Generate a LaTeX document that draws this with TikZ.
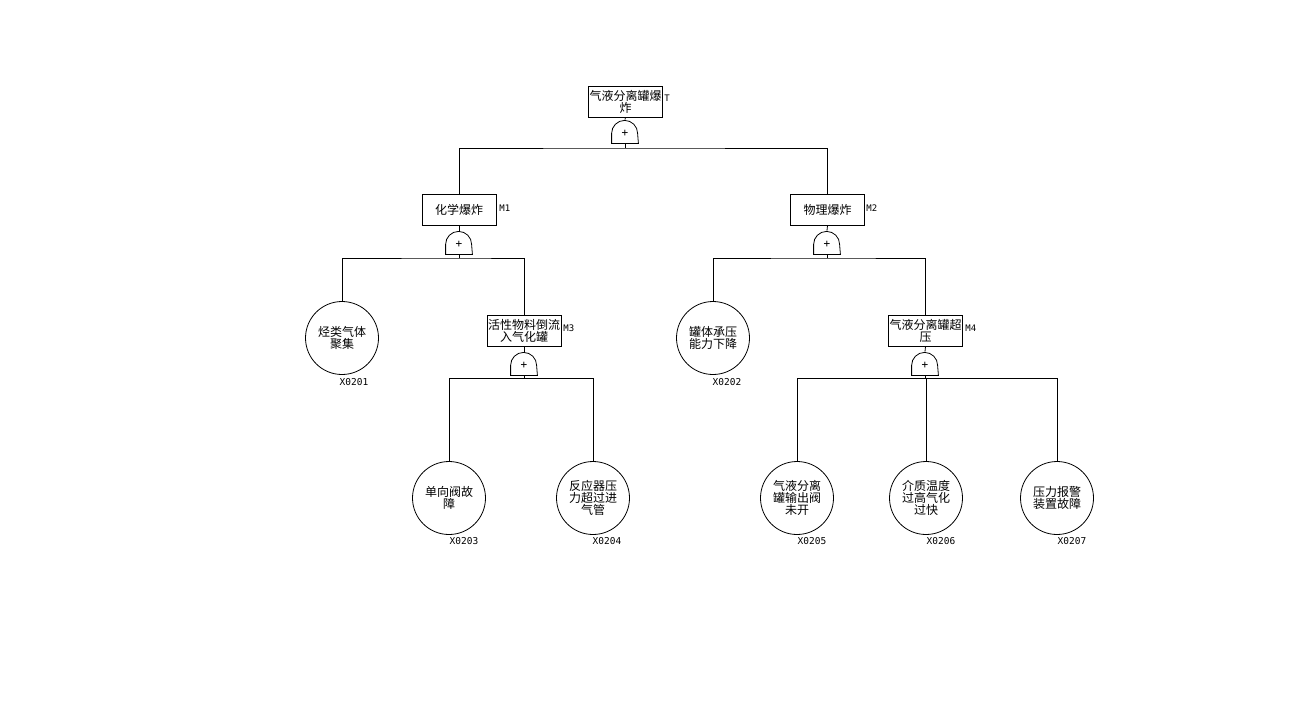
\documentclass[tikz,border=0pt]{standalone}
\usepackage{fontspec}
\newfontfamily\cjk{Noto Sans CJK SC}
\newfontfamily\lbl{DejaVu Sans Mono}
\begin{document}
\begin{tikzpicture}[x=1pt,y=1pt,
  line width=0.8pt,
  evt/.style={draw, rectangle, minimum width=74, minimum height=31, inner sep=0pt, align=center, font=\cjk\fontsize{12}{12}\selectfont},
  basic/.style={draw, circle, minimum size=73, inner sep=0pt, align=center, font=\cjk\fontsize{12}{12}\selectfont},
  gate/.style={minimum width=26, minimum height=23, inner sep=0pt},
  tag/.style={font=\lbl\fontsize{9}{9}\selectfont, inner sep=0pt, anchor=west},
  ctag/.style={font=\lbl\fontsize{9.5}{9.5}\selectfont, inner sep=0pt}
]
\useasboundingbox (0,0) rectangle (1298,-716);
\newcommand{\orgate}[1]{%
  \draw (#1.south west) -- ++(0,10) arc[start angle=180,end angle=0,radius=13] -- (#1.south east) -- cycle;
  \node[font=\lbl\fontsize{11}{11}\selectfont, inner sep=0pt] at ([yshift=-2]#1.center) {+};}

% top
\node[evt] (T) at (625.5,-101.5) {气液分离罐爆\\炸};
\node[tag] (tT) at (664,-98) {T};
\node[gate] (gT) at (625,-131.5) {};
\orgate{gT}
\coordinate (bT) at (625,-148);

% M1, M2
\node[evt] (M1) at (459,-209.5) {化学爆炸};
\node[tag] (tM1) at (499,-208) {M1};
\node[gate] (g1) at (459,-242.5) {};
\orgate{g1}
\coordinate (b1) at (459,-258);

\node[evt] (M2) at (827.5,-209.5) {物理爆炸};
\node[tag] (tM2) at (866,-208) {M2};
\node[gate] (g2) at (827,-242.5) {};
\orgate{g2}
\coordinate (b2) at (827,-258);

% level 3
\node[basic] (X1) at (342,-338) {烃类气体\\聚集};
\node[ctag] (tX1) at (354,-382) {X0201};

\node[evt] (M3) at (524,-330.5) {活性物料倒流\\入气化罐};
\node[tag] (tM3) at (563,-328) {M3};
\node[gate] (g3) at (524,-363.5) {};
\orgate{g3}
\coordinate (b3) at (524,-378);

\node[basic] (X2) at (713,-338) {罐体承压\\能力下降};
\node[ctag] (tX2) at (727,-382) {X0202};

\node[evt] (M4) at (925.5,-330.5) {气液分离罐超\\压};
\node[tag] (tM4) at (965,-328) {M4};
\node[gate] (g4) at (925,-363.5) {};
\orgate{g4}
\coordinate (b4) at (925,-378);

% level 4
\node[basic] (X3) at (449,-498) {单向阀故\\障};
\node[ctag] (tX3) at (464,-541) {X0203};
\node[basic] (X4) at (593,-498) {反应器压\\力超过进\\气管};
\node[ctag] (tX4) at (607,-541) {X0204};
\node[basic] (X5) at (797,-498) {气液分离\\罐输出阀\\未开};
\node[ctag] (tX5) at (812,-541) {X0205};
\node[basic] (X6) at (926,-498) {介质温度\\过高气化\\过快};
\node[ctag] (tX6) at (941,-541) {X0206};
\node[basic] (X7) at (1057,-498) {压力报警\\装置故障};
\node[ctag] (tX7) at (1072,-541) {X0207};

% connectors
\draw (T.south) -- (gT.north);
\draw (gT.south) -- (bT);
\draw (M1.north) |- (bT) -| (M2.north);

\draw (M1.south) -- (g1.north);
\draw (g1.south) -- (b1);
\draw (X1.north) |- (b1) -| (M3.north);

\draw (M2.south) -- (g2.north);
\draw (g2.south) -- (b2);
\draw (X2.north) |- (b2) -| (M4.north);

\draw (M3.south) -- (g3.north);
\draw (g3.south) -- (b3);
\draw (X3.north) |- (b3) -| (X4.north);

\draw (M4.south) -- (g4.north);
\draw (g4.south) -- (b4);
\draw (X5.north) |- (b4) -| (X7.north);
\draw (X6.north) -- (X6.north |- b4);
\end{tikzpicture}
\end{document}
